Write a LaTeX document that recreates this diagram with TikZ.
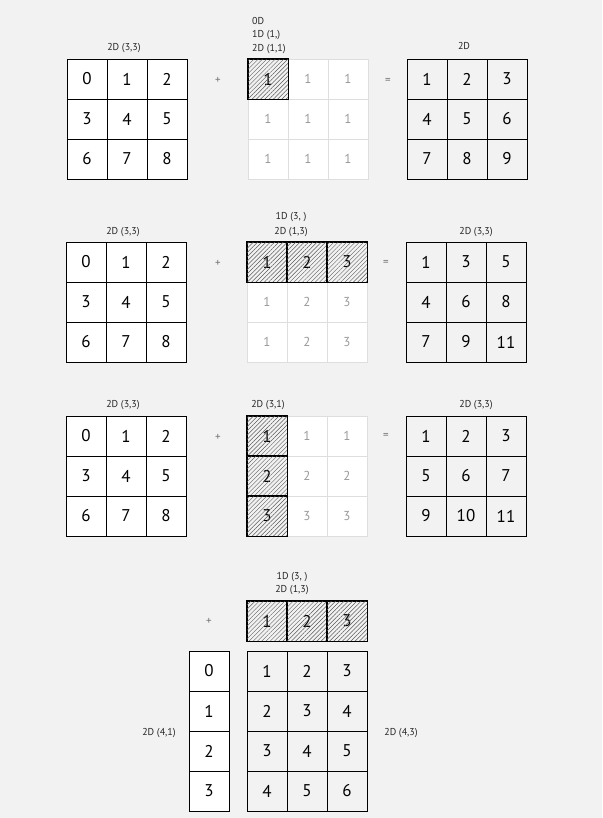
\documentclass[tikz,border=0pt]{standalone}
\usepackage{fontspec}
\setmainfont{PT Sans}
\usetikzlibrary{patterns.meta}
\definecolor{bg}{HTML}{F2F2F2}
\definecolor{ghostline}{HTML}{DEDEDE}
\definecolor{ghosttext}{HTML}{9A9A9A}
\definecolor{optext}{HTML}{707070}
\tikzset{
  cellbox/.style={draw=black, line width=0.9pt, minimum size=40pt, inner sep=0pt, font=\fontsize{17}{17}\selectfont},
  inbox/.style={cellbox, fill=white},
  outbox/.style={cellbox, fill=bg},
  ghostbox/.style={draw=ghostline, line width=0.9pt, fill=white, minimum size=40pt, inner sep=0pt, text=ghosttext, font=\fontsize{13}{13}\selectfont},
  hatchbox/.style={cellbox, fill=bg},
  dimlabel/.style={font=\fontsize{10}{10}\selectfont, inner sep=0pt, text=black!85},
  opsign/.style={font=\fontsize{11}{11}\selectfont, inner sep=0pt, text=optext},
  hatching/.style={pattern={Lines[angle=45,distance=3pt,line width=0.45pt]}, pattern color=black!65}
}
% #1 name, #2 left x, #3 top y, #4 columns, #5 style, #6 entries
\newcommand\cellgrid[6]{%
  \foreach \v [count=\k from 0] in {#6}{%
    \pgfmathtruncatemacro\ci{mod(\k,#4)}%
    \pgfmathtruncatemacro\cj{div(\k,#4)}%
    \node[#5] (#1-\k) at ({#2+20+40*\ci},{#3+20+40*\cj}) {\v};
  }%
}
% hatched overlay on cell nodes
\newcommand\hatchover[2]{%
  \foreach \k in {#2}{%
    \fill[hatching] (#1-\k.north west) rectangle (#1-\k.south east);
    \draw[line width=0.9pt] (#1-\k.north west) rectangle (#1-\k.south east);
  }%
}
\begin{document}
\begin{tikzpicture}[x=1pt,y=-1pt]
\fill[bg] (0,0) rectangle (602,818);
\useasboundingbox (0,0) rectangle (602,818);

% ---------- Row 1 ----------
\node[dimlabel] (l1a) at (124,48) {2D (3,3)};
\cellgrid{a1}{67}{59}{3}{inbox}{0,1,2,3,4,5,6,7,8}
\node[opsign] (p1) at (218,80) {+};
\cellgrid{b1}{248}{59}{3}{ghostbox}{{},1,1,1,1,1,1,1,1}
\node[hatchbox] (b1h-0) at (268,79) {1};
\hatchover{b1h}{0}
\node[dimlabel, anchor=west] (l1b0) at (252,21) {0D};
\node[dimlabel, anchor=west] (l1b1) at (252,35) {1D (1,)};
\node[dimlabel, anchor=west] (l1b2) at (252,49) {2D (1,1)};
\node[opsign] (e1) at (388,81) {=};
\node[dimlabel] (l1c) at (464,46) {2D};
\cellgrid{c1}{407}{59}{3}{outbox}{1,2,3,4,5,6,7,8,9}

% ---------- Row 2 ----------
\node[dimlabel] (l2a) at (123,232) {2D (3,3)};
\cellgrid{a2}{66}{242}{3}{inbox}{0,1,2,3,4,5,6,7,8}
\node[opsign] (p2) at (218,263) {+};
\cellgrid{b2}{247}{242}{3}{ghostbox}{{},{},{},1,2,3,1,2,3}
\cellgrid{b2h}{247}{242}{3}{hatchbox}{1,2,3}
\hatchover{b2h}{0,1,2}
\node[dimlabel] (l2b1) at (291,217) {1D (3, )};
\node[dimlabel] (l2b2) at (291,232) {2D (1,3)};
\node[opsign] (e2) at (386,263) {=};
\node[dimlabel] (l2c) at (476,232) {2D (3,3)};
\cellgrid{c2}{406}{242}{3}{outbox}{1,3,5,4,6,8,7,9,11}

% ---------- Row 3 ----------
\node[dimlabel] (l3a) at (123,405) {2D (3,3)};
\cellgrid{a3}{66}{416}{3}{inbox}{0,1,2,3,4,5,6,7,8}
\node[opsign] (p3) at (218,437) {+};
\cellgrid{b3}{247}{416}{3}{ghostbox}{{},1,1,{},2,2,{},3,3}
\cellgrid{b3h}{247}{416}{1}{hatchbox}{1,2,3}
\hatchover{b3h}{0,1,2}
\node[dimlabel] (l3b) at (268,405) {2D (3,1)};
\node[opsign] (e3) at (386,436) {=};
\node[dimlabel] (l3c) at (476,405) {2D (3,3)};
\cellgrid{c3}{406}{416}{3}{outbox}{1,2,3,5,6,7,9,10,11}

% ---------- Row 4 ----------
\node[opsign] (p4) at (209,621) {+};
\node[dimlabel] (l4b1) at (292,577) {1D (3, )};
\node[dimlabel] (l4b2) at (292,590) {2D (1,3)};
\cellgrid{b4h}{247}{601}{3}{hatchbox}{1,2,3}
\hatchover{b4h}{0,1,2}
\cellgrid{a4}{189}{651}{1}{inbox}{0,1,2,3}
\node[dimlabel] (l4a) at (159,733) {2D (4,1)};
\cellgrid{c4}{247}{651}{3}{outbox}{1,2,3,2,3,4,3,4,5,4,5,6}
\node[dimlabel] (l4c) at (401,733) {2D (4,3)};
\end{tikzpicture}
\end{document}
